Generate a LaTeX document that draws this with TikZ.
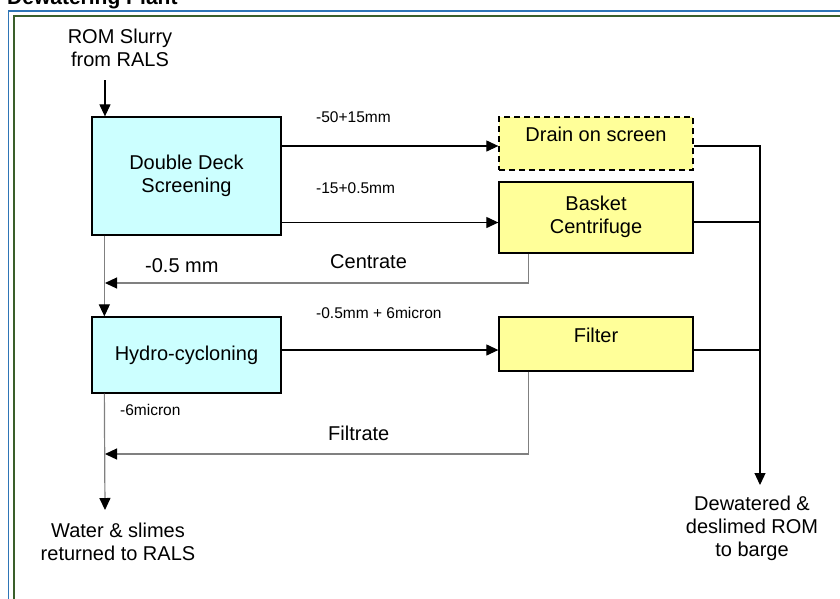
\documentclass[tikz,border=0pt]{standalone}
\usepackage{fontspec}
\setmainfont{Liberation Sans}
\usetikzlibrary{arrows.meta}

\definecolor{cyanbox}{HTML}{CCFFFF}
\definecolor{yellowbox}{HTML}{FFFF99}
\definecolor{frameblue}{HTML}{2E75B6}
\definecolor{framegreen}{HTML}{3A5F2A}

\begin{document}
\begin{tikzpicture}
[x=1pt,y=-1pt,
every node/.style={
  font=\fontsize{20}{23}\selectfont, inner sep=0pt
},
process/.style={
  draw=black, line width=1.3pt, fill=cyanbox, minimum width=189pt, align=center
},
product/.style={
  draw=black, line width=1.3pt, fill=yellowbox, minimum width=194pt, align=center
},
raised/.style={
  text height=15pt, text depth=19pt
},
flow/.style={
  line width=1.2pt, -{Triangle[length=12pt,width=11pt]}
},
ret/.style={
  line width=1.2pt, draw=black!50, -{Triangle[length=12pt,width=11pt,black]}
},
bus/.style={
  line width=1.2pt
},
size/.style={
  font=\fontsize{15.5}{18}\selectfont, anchor=west
},
stream/.style={
  anchor=west
}
]
\useasboundingbox (0,0) rectangle (840,598);

% frame and title
\draw[frameblue, line width=1.6pt] (8.5,11) rectangle (860,620);
\draw[framegreen, line width=1.6pt] (14,16) rectangle (860,620);
\node[font=\bfseries\fontsize{21}{24}\selectfont, anchor=base west] (title) at (7,4) {Dewatering Plant};

% Screening and cycloning
\node[process, minimum height=118pt] (dds) at (186.5,176) {Double Deck\\Screening};
\node[process, minimum height=76pt] (hydro) at (186.5,355) {Hydro-cycloning};

% Products
\node[product, raised, dash pattern=on 6pt off 4pt, minimum height=53pt] (drain) at (596,143.5) {Drain on screen};
\node[product, minimum height=71pt] (basket) at (596,217.5) {\raisebox{5pt}{\shortstack{Basket\\[5pt]Centrifuge}}};
\node[product, raised, minimum height=54pt] (filter) at (596,344) {Filter};

% In and out
\node[align=center] (rom) at (120,48) {ROM Slurry\\from RALS};
\node[align=center] (slimes) at (118,542) {Water \& slimes\\returned to RALS};
\node[align=center] (barge) at (752,528) {Dewatered \&\\deslimed ROM\\to barge};

\coordinate (feed) at (105,80);
\coordinate (waste) at (105,510);
\coordinate (load) at (760,485);
\coordinate (centrate) at (105,283);
\coordinate (filtrate) at (105,454);

% feed side
\draw[flow] (feed) -- (feed |- dds.north);
\draw[ret] ([xshift=13pt]dds.south west) -- ([xshift=13pt]hydro.north west);
\draw[ret] ([xshift=13pt]hydro.south west) -- (waste);

% screen products
\draw[flow] ([yshift=-2.5pt]drain.west -| dds.east) -- ([yshift=-2.5pt]drain.west);
\draw[flow] ([yshift=-5pt]basket.west -| dds.east) -- ([yshift=-5pt]basket.west);
\draw[flow] ([yshift=-6pt]filter.west -| hydro.east) -- ([yshift=-6pt]filter.west);
\node[size] (coarse) at (316,117) {-50+15mm};
\node[size] (mid) at (316,188) {-15+0.5mm};
\node[size] (fine) at (316,313) {-0.5mm + 6micron};
\node[size] (ultra) at (120,410) {-6micron};

% returns
\draw[ret] ([xshift=30pt]basket.south west) |- (centrate);
\draw[ret] ([xshift=30pt]filter.south west) |- (filtrate);
\node[stream] (centr lbl) at (330,262) {Centrate};
\node[stream] (under lbl) at (145,266) {-0.5 mm};
\node[stream] (filt lbl) at (328,433) {Filtrate};

% to barge
\draw[flow] ([yshift=-2.5pt]drain.east) -| (load);
\draw[bus] ([yshift=-4.5pt]basket.east) -- ([yshift=-4.5pt]basket.east -| load);
\draw[bus] ([yshift=-6pt]filter.east) -- ([yshift=-6pt]filter.east -| load);

\end{tikzpicture}
\end{document}
